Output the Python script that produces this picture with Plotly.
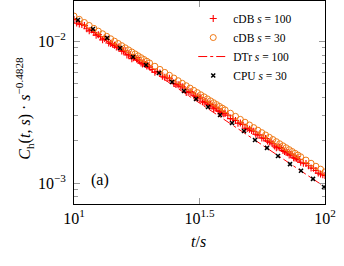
import plotly.graph_objects as go

# ---------------- data ----------------
# cDB s = 30 (orange open circles)
cdb30_x = [10, 10.5, 11, 11.5, 12, 12.5, 13, 13.5, 14, 14.5, 15, 15.5, 16, 16.5, 17, 17.5,
           18, 18.5, 19, 19.5, 20, 21, 22, 23, 24, 25, 26, 27, 28, 29, 30, 31, 32, 33, 34,
           35, 36, 37, 38, 39, 40, 42, 44, 46, 48, 50, 52, 54, 56, 58, 60, 62, 64, 66, 68,
           70, 72, 74, 76, 78, 80, 84, 88, 92, 96, 100]
cdb30_y = [0.01508, 0.01429, 0.01358, 0.01294, 0.01234, 0.01180, 0.01130, 0.01084, 0.01042,
           0.01002, 0.009656, 0.009314, 0.008995, 0.008695, 0.008414, 0.008149, 0.007900,
           0.007665, 0.007443, 0.007234, 0.007035, 0.006668, 0.006335, 0.006034, 0.005757,
           0.005504, 0.005272, 0.005058, 0.004859, 0.004675, 0.004504, 0.004345, 0.004195,
           0.004056, 0.003925, 0.003802, 0.003686, 0.003577, 0.003473, 0.003375, 0.003282,
           0.003110, 0.002955, 0.002814, 0.002686, 0.002568, 0.002460, 0.002360, 0.002267,
           0.002182, 0.002102, 0.002027, 0.001958, 0.001892, 0.001831, 0.001774, 0.001720,
           0.001669, 0.001621, 0.001575, 0.001532, 0.001452, 0.001379, 0.001313, 0.001253,
           0.001198]

# cDB s = 100 (red plus)
cdb100_x = [10, 10.5, 11, 11.5, 12, 12.5, 13, 13.5, 14, 14.5, 15, 15.5, 16, 16.5, 17, 17.5,
            18, 18.5, 19, 19.5, 20, 21, 22, 23, 24, 25, 26, 27, 28, 29, 30, 31, 32, 33, 34,
            35, 36, 37, 38, 39, 40, 42, 44, 46, 48, 50, 52, 54, 56, 58, 60, 62, 64, 66, 68,
            70, 72, 74, 76, 78, 80, 84, 88, 92, 96, 100,
            10.25, 10.75, 11.25, 11.75, 12.25, 12.75, 13.25, 13.75, 14.25, 14.75, 15.25,
            15.75, 16.25, 16.75, 17.25, 17.75, 18.25, 18.75, 19.25, 19.75, 20.5, 21.5, 22.5,
            23.5, 24.5, 25.5, 26.5, 27.5, 28.5, 29.5, 30.5, 31.5, 32.5, 33.5, 34.5, 35.5,
            36.5, 37.5, 38.5, 39.5, 41, 43, 45, 47, 49, 51, 53, 55, 57, 59, 61, 63, 65, 67,
            69, 71, 73, 75, 77, 79, 82, 86, 90, 94, 98]
cdb100_y = [0.01424, 0.01322, 0.01295, 0.01185, 0.01153, 0.01114, 0.01024, 0.01033, 0.009640,
            0.009364, 0.009115, 0.008528, 0.008576, 0.008044, 0.007546, 0.007693, 0.007383,
            0.007019, 0.007096, 0.006692, 0.006575, 0.006043, 0.005980, 0.005582, 0.005489,
            0.005040, 0.004927, 0.004775, 0.004358, 0.004413, 0.004167, 0.004061, 0.004000,
            0.003714, 0.003668, 0.003589, 0.003341, 0.003377, 0.003213, 0.003154, 0.003098,
            0.002848, 0.002762, 0.002656, 0.002435, 0.002400, 0.002322, 0.002183, 0.002076,
            0.002060, 0.001944, 0.001894, 0.001774, 0.001786, 0.001693, 0.001658, 0.001575,
            0.001576, 0.001499, 0.001472, 0.001403, 0.001371, 0.001276, 0.001227, 0.001159,
            0.001131,
            0.01344, 0.01315, 0.01227, 0.01205, 0.01105, 0.01079, 0.01045, 0.009733, 0.009552,
            0.009101, 0.008953, 0.008555, 0.008016, 0.008075, 0.007661, 0.007499, 0.007346,
            0.006916, 0.006858, 0.006734, 0.006336, 0.006135, 0.005662, 0.005508, 0.005314,
            0.004983, 0.004826, 0.004679, 0.004364, 0.004332, 0.004092, 0.003990, 0.003738,
            0.003767, 0.003574, 0.003499, 0.003428, 0.003228, 0.003200, 0.003079, 0.003016,
            0.002833, 0.002640, 0.002595, 0.002429, 0.002348, 0.002207, 0.002183, 0.002078,
            0.001982, 0.001948, 0.001824, 0.001799, 0.001757, 0.001667, 0.001633, 0.001599,
            0.001506, 0.001494, 0.001466, 0.001380, 0.001323, 0.001271, 0.001175, 0.001145]

# DTr s = 100 (red dash-dot line)
dtr_x = [10, 15, 20, 30, 40, 50, 60, 70, 80, 90, 98]
dtr_y = [0.01437, 0.008885, 0.006313, 0.003904, 0.002775, 0.002130, 0.001716, 0.001429,
         0.001220, 0.001061, 0.000960]

# CPU s = 30 (black x)
cpu_x = [10.37, 11.90, 13.54, 15.25, 17.19, 19.36, 21.81, 24.57, 27.43, 30.63, 34.19, 38.17,
         42.62, 47.57, 52.61, 58.73, 64.96, 72.53, 80.23, 89.57, 99.1]
cpu_y = [0.01413, 0.01221, 0.01055, 0.00897, 0.00775, 0.00680, 0.00597, 0.00516, 0.00446,
         0.00392, 0.00344, 0.00302, 0.00265, 0.00233, 0.00201, 0.00177, 0.00155, 0.00136,
         0.00122, 0.00107, 0.000937]

x_tick_vals = [10, 31.6228, 100]
x_tick_text = ["10<sup>1</sup>", "10<sup>1.5</sup>", "10<sup>2</sup>"]
y_tick_vals = [0.001, 0.01]
y_tick_text = ["10<sup>−3</sup>", "10<sup>−2</sup>"]
y_minor_vals = [0.0008, 0.0009, 0.002, 0.003, 0.004, 0.005, 0.006, 0.007, 0.008, 0.009]

FONT = "Liberation Serif, DejaVu Serif, serif"

fig = go.Figure()
fig.add_trace(go.Scatter(
    x=cdb100_x, y=cdb100_y, mode="markers", name="cDB <i>s</i> = 100",
    marker=dict(symbol="cross-thin", size=5, color="#ff0000",
                line=dict(color="#ff0000", width=1.1))))
fig.add_trace(go.Scatter(
    x=cdb30_x, y=cdb30_y, mode="markers", name="cDB <i>s</i> = 30",
    marker=dict(symbol="circle-open", size=6, color="#f07814",
                line=dict(color="#f07814", width=1))))
fig.add_trace(go.Scatter(
    x=dtr_x, y=dtr_y, mode="lines", name="DTr <i>s</i> = 100",
    line=dict(color="#ff0000", width=1, dash="dashdot")))
fig.add_trace(go.Scatter(
    x=cpu_x, y=cpu_y, mode="markers", name="CPU <i>s</i> = 30",
    marker=dict(symbol="x-thin", size=4, color="black",
                line=dict(color="black", width=1.5))))

fig.update_layout(
    width=344, height=266,
    margin=dict(l=74, r=19, t=1, b=62),
    plot_bgcolor="white", paper_bgcolor="white",
    font=dict(family=FONT, size=15, color="black"),
    showlegend=True,
    legend=dict(x=0.475, y=0.985, xanchor="left", yanchor="top",
                bgcolor="rgba(255,255,255,0)", borderwidth=0,
                font=dict(family=FONT, size=11.5)),
)
fig.update_xaxes(
    type="log", range=[1, 2],
    tickmode="array", tickvals=x_tick_vals, ticktext=x_tick_text,
    ticks="inside", ticklen=6, tickcolor="#999", tickwidth=1,
    showline=True, linecolor="black", linewidth=1, mirror="ticks",
    showgrid=False, zeroline=False,
    tickfont=dict(family=FONT, size=16),
)
fig.update_yaxes(
    type="log", range=[-3.148, -1.7156],
    tickmode="array", tickvals=y_tick_vals, ticktext=y_tick_text,
    ticks="inside", ticklen=6, tickcolor="#999", tickwidth=1,
    minor=dict(tickmode="array", tickvals=y_minor_vals, ticks="inside",
               ticklen=3.5, tickcolor="#999", tickwidth=1, showgrid=False),
    showline=True, linecolor="black", linewidth=1, mirror="ticks",
    showgrid=False, zeroline=False,
    tickfont=dict(family=FONT, size=16),
    ticklabelstandoff=4,
)

fig.add_annotation(
    text="<i>C</i><sub>h</sub>(<i>t</i>, <i>s</i>) · <i>s</i><sup>−0.4828</sup>",
    xref="paper", yref="paper", x=-0.199, y=0.47, xanchor="center", yanchor="middle",
    textangle=-90, showarrow=False, font=dict(family=FONT, size=16))
fig.add_annotation(
    text="<i>t</i>/<i>s</i>", xref="paper", yref="paper", x=0.498, y=-0.187,
    xanchor="center", yanchor="middle", showarrow=False, font=dict(family=FONT, size=16))
fig.add_annotation(
    text="(a)", xref="paper", yref="paper", x=0.1036, y=0.118,
    xanchor="center", yanchor="middle", showarrow=False, font=dict(family=FONT, size=16))

fig.write_html("out.html", config={"displayModeBar": False},
               post_script="document.body.style.margin='0';")
